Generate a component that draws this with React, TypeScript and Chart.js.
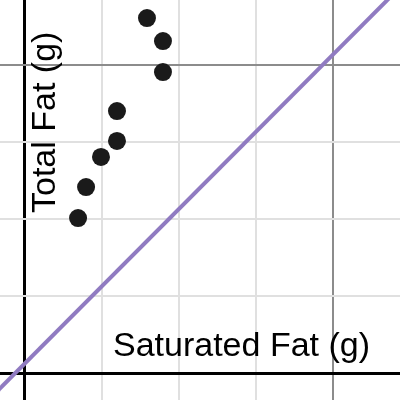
import React, { useEffect, useRef } from "react";
import { Chart, registerables } from "chart.js";

Chart.register(...registerables);

const saturatedFat = [3.45, 3.97, 4.94, 5.98, 5.98, 7.93, 8.97, 8.97];
const totalFat = [10.07, 12.08, 14.03, 15.07, 17.01, 23.04, 21.55, 19.54];
const lineX = [-2, 25];
const lineY = [-1.35, 25.65];
const gridValues = [0, 5, 10, 15, 20];
const xLabel = "Saturated Fat (g)";
const yLabel = "Total Fat (g)";

const labelPlugin = {
  id: "axisText",
  afterDatasetsDraw(chart: any) {
    const ctx = chart.ctx;
    ctx.save();
    ctx.fillStyle = "#000";
    ctx.font = '34px "Liberation Sans", Arial, sans-serif';
    ctx.textBaseline = "alphabetic";
    ctx.textAlign = "left";
    ctx.fillText(xLabel, 113, 356);
    ctx.translate(55, 213);
    ctx.rotate(-Math.PI / 2);
    ctx.fillText(yLabel, 0, 0);
    ctx.restore();
  },
};

function gridColor(c: any) {
  const v = c.tick ? c.tick.value : 0;
  if (Math.abs(v) < 1e-9) return "#000000";
  if (Math.abs(v % 20) < 1e-6) return "#8c8c8c";
  return "#e0e0e0";
}
function gridWidth(c: any) {
  const v = c.tick ? c.tick.value : 0;
  if (Math.abs(v) < 1e-9) return 3;
  return 2;
}
function setTicks(scale: any) {
  scale.ticks = gridValues.map((v) => ({ value: v }));
}

export default function App() {
  const ref = useRef<HTMLCanvasElement>(null);
  useEffect(() => {
    if (!ref.current) return;
    const chart = new Chart(ref.current, {
      type: "scatter",
      data: {
        datasets: [
          {
            type: "line",
            data: lineX.map((x, i) => ({ x, y: lineY[i] })),
            borderColor: "#907bc1",
            borderWidth: 4,
            pointRadius: 0,
            fill: false,
          },
          {
            data: saturatedFat.map((x, i) => ({ x, y: totalFat[i] })),
            backgroundColor: "#1a1a1a",
            borderWidth: 0,
            pointRadius: 9,
          },
        ],
      },
      options: {
        animation: false,
        responsive: true,
        maintainAspectRatio: false,
        layout: { padding: 0, autoPadding: false },
        plugins: { legend: { display: false }, tooltip: { enabled: false } },
        scales: {
          x: {
            type: "linear",
            min: -1.625,
            max: 24.38,
            afterBuildTicks: setTicks,
            ticks: { display: false },
            border: { display: false },
            grid: { drawTicks: false, color: gridColor, lineWidth: gridWidth },
          },
          y: {
            type: "linear",
            min: -1.73,
            max: 24.21,
            afterBuildTicks: setTicks,
            ticks: { display: false },
            border: { display: false },
            grid: { drawTicks: false, color: gridColor, lineWidth: gridWidth },
          },
        },
      },
      plugins: [labelPlugin],
    });
    return () => chart.destroy();
  }, []);
  return (
    <div style={{ position: "absolute", left: 0, top: 0, width: 400, height: 400, background: "#fff" }}>
      <canvas ref={ref} />
    </div>
  );
}
